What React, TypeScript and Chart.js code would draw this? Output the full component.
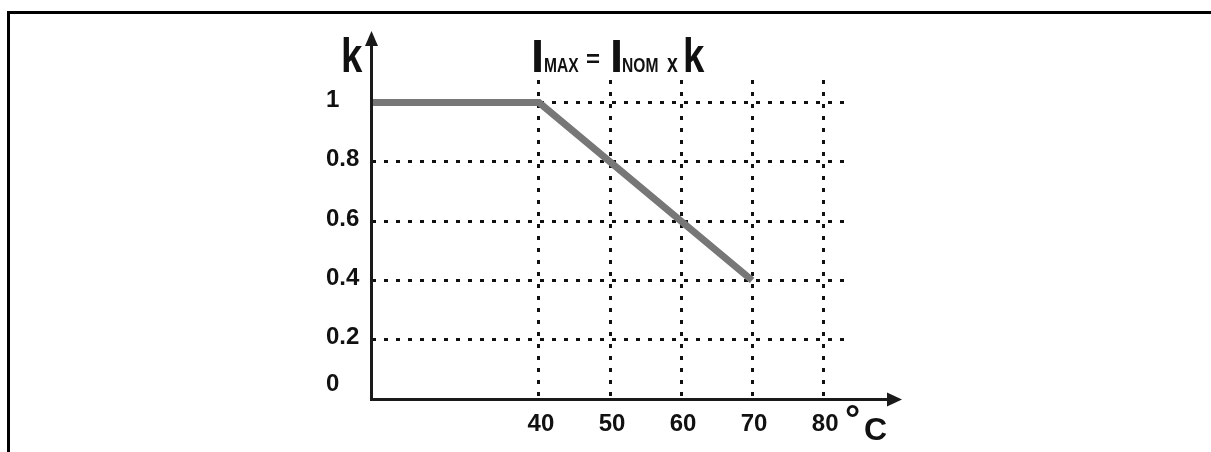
import { useEffect, useRef } from 'react';
import { Chart, registerables } from 'chart.js';

Chart.register(...registerables);

// ---- data ----
const TEMP_C = [16.5, 40, 70];
const K_VALUES = [1, 1, 0.4];
const X_TICKS = [40, 50, 60, 70, 80];
const X_TICK_LABELS = ['40', '50', '60', '70', '80'];
const Y_GRID = [0.2, 0.4, 0.6, 0.8, 1];
const Y_LABEL_VALUES = [0, 0.2, 0.4, 0.6, 0.8, 1];
const Y_TICK_LABELS = ['0', '0.2', '0.4', '0.6', '0.8', '1'];
const X_MIN = 16.5;
const X_MAX = 83.5;
const Y_MIN = 0;
const Y_MAX = 1.076;

const W = 1211;
const H = 452;
const FONT = '"Liberation Sans", Arial, sans-serif';
const INK = '#111';

function txt(ctx: CanvasRenderingContext2D, s: string, x: number, y: number, size: number, sx = 1, align: CanvasTextAlign = 'left', base: CanvasTextBaseline = 'alphabetic') {
  ctx.save();
  ctx.translate(x, y);
  ctx.scale(sx, 1);
  ctx.font = `bold ${size}px ${FONT}`;
  ctx.fillStyle = INK;
  ctx.textAlign = align;
  ctx.textBaseline = base;
  ctx.fillText(s, 0, 0);
  ctx.restore();
}

const decor = {
  id: 'decor',
  afterDraw(chart: any) {
    const ctx = chart.ctx as CanvasRenderingContext2D;
    const { left, right, bottom } = chart.chartArea;
    const xs = chart.scales.x;
    const ys = chart.scales.y;
    ctx.save();
    // axes
    ctx.strokeStyle = '#1a1a1a';
    ctx.fillStyle = '#1a1a1a';
    ctx.lineWidth = 3;
    ctx.beginPath();
    ctx.moveTo(left - 0.5, bottom + 2);
    ctx.lineTo(left - 0.5, 44);
    ctx.stroke();
    ctx.beginPath();
    ctx.moveTo(left - 0.5, 31);
    ctx.lineTo(left - 7, 46);
    ctx.lineTo(left + 6, 46);
    ctx.closePath();
    ctx.fill();
    const axY = bottom + 0.5;
    ctx.beginPath();
    ctx.moveTo(left - 2, axY);
    ctx.lineTo(right + 42, axY);
    ctx.stroke();
    ctx.beginPath();
    ctx.moveTo(right + 54, axY);
    ctx.lineTo(right + 39, axY - 7);
    ctx.lineTo(right + 39, axY + 7);
    ctx.closePath();
    ctx.fill();

    // y tick labels
    Y_LABEL_VALUES.forEach((v, i) => {
      const py = Math.min(ys.getPixelForValue(v) - 2, bottom - 15);
      txt(ctx, Y_TICK_LABELS[i], 326, py, 24, 1, 'left', 'middle');
    });
    // x tick labels
    X_TICKS.forEach((v, i) => {
      txt(ctx, X_TICK_LABELS[i], xs.getPixelForValue(v) + 2, 424, 24, 1, 'center', 'middle');
    });
    // axis titles
    txt(ctx, 'k', 341, 72, 48, 0.8);
    txt(ctx, '°', 845, 432, 38, 1);
    txt(ctx, 'C', 864, 440, 32, 1);
    // formula
    txt(ctx, 'I', 531, 72, 47, 1);
    txt(ctx, 'MAX', 544, 72, 19.5, 0.8);
    txt(ctx, '=', 586, 67, 24, 1);
    txt(ctx, 'I', 610, 72, 47, 1);
    txt(ctx, 'NOM', 622, 72, 19.5, 0.8);
    txt(ctx, 'x', 667, 72, 26, 0.75);
    txt(ctx, 'k', 683, 72, 48, 0.8);
    ctx.restore();
  },
};

export default function App() {
  const ref = useRef<HTMLCanvasElement>(null);
  useEffect(() => {
    const canvas = ref.current!;
    const chart = new Chart(canvas, {
      type: 'line',
      data: {
        datasets: [
          {
            data: TEMP_C.map((x, i) => ({ x, y: K_VALUES[i] })),
            borderColor: '#777',
            borderWidth: 7,
            pointRadius: 0,
            fill: false,
            tension: 0,
          },
        ],
      },
      options: {
        responsive: false,
        animation: false,
        devicePixelRatio: 1,
        layout: { padding: { left: 372, top: 80, right: W - 848, bottom: H - 399 } },
        plugins: { legend: { display: false }, tooltip: { enabled: false } },
        scales: {
          x: {
            type: 'linear',
            min: X_MIN,
            max: X_MAX,
            afterBuildTicks: (s: any) => {
              s.ticks = X_TICKS.map((v) => ({ value: v }));
            },
            ticks: { display: false },
            grid: { color: '#111', lineWidth: 3, drawTicks: false },
            border: { display: false, dash: [4, 8] },
          },
          y: {
            type: 'linear',
            min: Y_MIN,
            max: Y_MAX,
            afterBuildTicks: (s: any) => {
              s.ticks = Y_GRID.map((v) => ({ value: v }));
            },
            ticks: { display: false },
            grid: { color: '#111', lineWidth: 3, drawTicks: false },
            border: { display: false, dash: [4, 8] },
          },
        },
      } as any,
      plugins: [decor],
    });
    return () => chart.destroy();
  }, []);
  return (
    <div style={{ position: 'fixed', left: 0, top: 0, width: W, height: H, background: '#fff', overflow: 'hidden' }}>
      <canvas ref={ref} width={W} height={H} style={{ display: 'block', position: 'absolute', left: 0, top: 0 }} />
      <div
        style={{
          position: 'absolute',
          left: 7,
          top: 11,
          width: W,
          height: H,
          borderLeft: '3px solid #000',
          borderTop: '3px solid #000',
          pointerEvents: 'none',
        }}
      />
    </div>
  );
}
